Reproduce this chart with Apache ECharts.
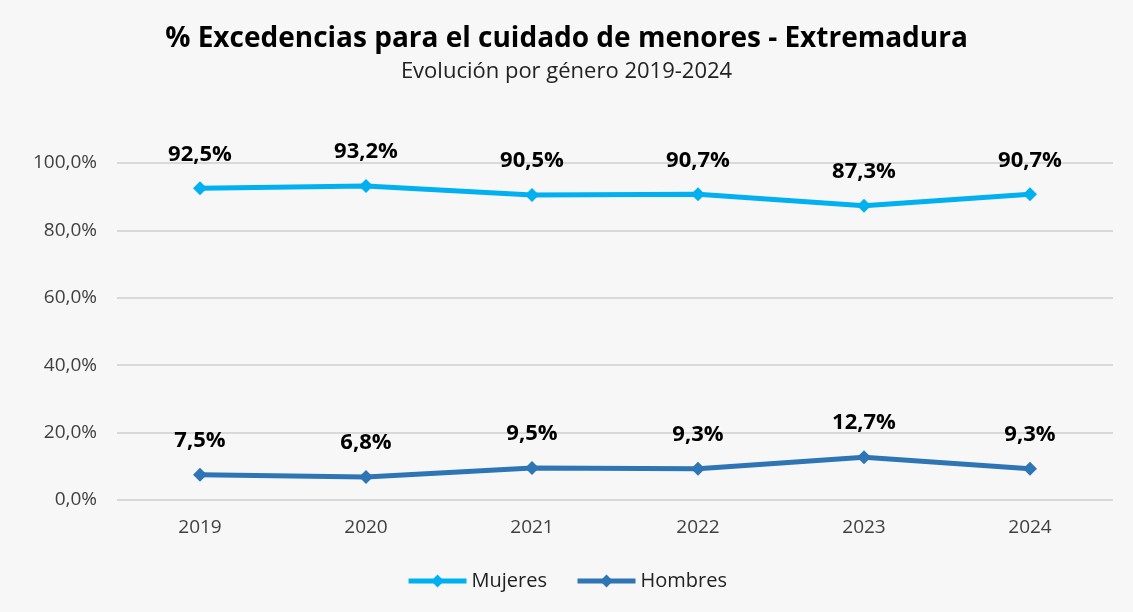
<!DOCTYPE html>
<html>
<head>
<meta charset="utf-8">
<script src="https://cdn.jsdelivr.net/npm/echarts@6/dist/echarts.min.js"></script>
<style>
  html, body { margin: 0; padding: 0; background: #ffffff; }
  #chart { width: 1133px; height: 612px; }
</style>
</head>
<body>
<div id="chart"></div>
<script>
var years = ["2019", "2020", "2021", "2022", "2023", "2024"];
var mujeres = [92.5, 93.2, 90.5, 90.7, 87.3, 90.7];
var hombres = [7.5, 6.8, 9.5, 9.3, 12.7, 9.3];

function pct(v) {
  return v.toFixed(1).replace(".", ",") + "%";
}

var myChart = echarts.init(document.getElementById("chart"));
var option = {
  backgroundColor: "#f7f7f7",
  textStyle: { fontFamily: "Open Sans" },
  title: {
    text: "% Excedencias para el cuidado de menores - Extremadura",
    subtext: "Evolución por género 2019-2024",
    left: "center",
    top: 20,
    itemGap: 8,
    textStyle: { fontSize: 28, fontWeight: "bold", color: "#000000", fontFamily: "Open Sans" },
    subtextStyle: { fontSize: 22, color: "#222222", fontFamily: "Open Sans" }
  },
  grid: { left: 117, right: 20, top: 163, bottom: 112 },
  legend: {
    bottom: 16,
    left: "center",
    itemWidth: 58,
    itemHeight: 16,
    itemGap: 28,
    lineStyle: { width: 5 },
    textStyle: { fontSize: 20, color: "#222222" },
    data: ["Mujeres", "Hombres"]
  },
  xAxis: {
    type: "category",
    data: years,
    axisLine: { show: false },
    axisTick: { show: false },
    axisLabel: { fontSize: 19, color: "#404040", margin: 18 }
  },
  yAxis: {
    type: "value",
    min: 0,
    max: 100,
    interval: 20,
    axisLabel: { fontSize: 19, color: "#404040", margin: 20, formatter: pct },
    splitLine: { lineStyle: { color: "#d9d9d9", width: 2 } }
  },
  series: [
    {
      name: "Mujeres",
      type: "line",
      data: mujeres,
      color: "#00b0f0",
      lineStyle: { width: 5 },
      symbol: "diamond",
      symbolSize: 14,
      label: {
        show: true,
        position: "top",
        distance: 16,
        fontSize: 22,
        fontWeight: "bold",
        color: "#000000",
        formatter: function (p) { return pct(p.value); }
      }
    },
    {
      name: "Hombres",
      type: "line",
      data: hombres,
      color: "#2e75b6",
      lineStyle: { width: 5 },
      symbol: "diamond",
      symbolSize: 14,
      label: {
        show: true,
        position: "top",
        distance: 16,
        fontSize: 22,
        fontWeight: "bold",
        color: "#000000",
        formatter: function (p) { return pct(p.value); }
      }
    }
  ]
};
myChart.setOption(option);
</script>
</body>
</html>
